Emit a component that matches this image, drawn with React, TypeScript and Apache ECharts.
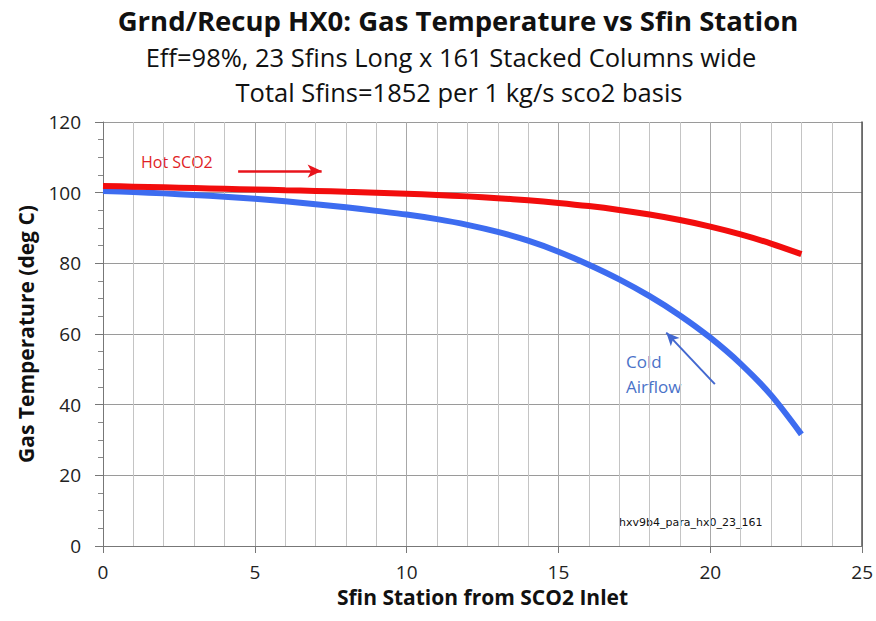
import React, { useEffect, useRef } from "react";
import * as echarts from "echarts";

const stations = [0, 1, 2, 3, 4, 5, 6, 7, 8, 9, 10, 11, 12, 13, 14, 15, 16, 17, 18, 19, 20, 21, 22, 23];
const hotSco2 = [101.9, 101.7, 101.5, 101.3, 101.1, 100.9, 100.7, 100.5, 100.25, 100.0, 99.7, 99.35, 98.95, 98.45, 97.85, 97.1, 96.2, 95.1, 93.8, 92.25, 90.4, 88.2, 85.6, 82.6];
const coldAir = [100.5, 100.2, 99.8, 99.35, 98.85, 98.25, 97.55, 96.75, 95.85, 94.85, 93.8, 92.5, 90.9, 88.9, 86.4, 83.3, 79.6, 75.45, 70.7, 65.25, 58.95, 51.55, 42.7, 31.6];
const hotArrow = [[4.45, 106.1], [7.2, 106.1]];
const coldArrow = [[20.15, 45.8], [18.55, 60.4]];

const titleLines = [
  "Grnd/Recup HX0: Gas Temperature vs Sfin Station",
  "Eff=98%, 23 Sfins Long x 161 Stacked Columns wide",
  "Total Sfins=1852 per 1 kg/s sco2 basis",
];

const FONT = "'Open Sans', Lato, sans-serif";

export default function App() {
  const ref = useRef<HTMLDivElement>(null);
  useEffect(() => {
    if (!ref.current) return;
    const chart = echarts.init(ref.current, null, { renderer: "svg" });
    const hot = stations.map((s, i) => [s, hotSco2[i]]);
    const cold = stations.map((s, i) => [s, coldAir[i]]);
    chart.setOption({
      animation: false,
      backgroundColor: "#ffffff",
      textStyle: { fontFamily: FONT },
      grid: { left: 103, right: 12, top: 122, bottom: 75 },
      xAxis: {
        type: "value",
        min: 0,
        max: 25,
        interval: 5,
        name: "Sfin Station from SCO2 Inlet",
        nameLocation: "middle",
        nameGap: 40,
        nameTextStyle: { fontFamily: FONT, fontSize: 21, fontWeight: "bold", color: "#111" },
        axisLine: { show: true, onZero: false, lineStyle: { color: "#777", width: 1 } },
        axisTick: { show: true, length: 7, lineStyle: { color: "#777" } },
        axisLabel: { fontFamily: FONT, fontSize: 19, color: "#222", margin: 16 },
        splitLine: { show: true, lineStyle: { color: "#a8a8a8", width: 1 } },
        minorTick: { show: false, splitNumber: 5 },
        minorSplitLine: { show: true, lineStyle: { color: "#c4c4c4", width: 1 } },
      },
      yAxis: [
        {
          type: "value",
          min: 0,
          max: 120,
          interval: 20,
          name: "Gas Temperature (deg C)",
          nameLocation: "middle",
          nameGap: 67,
          nameTextStyle: { fontFamily: FONT, fontSize: 21, fontWeight: "bold", color: "#111" },
          axisLine: { show: true, lineStyle: { color: "#777", width: 1 } },
          axisTick: { show: true, length: 8, lineStyle: { color: "#777" } },
          minorTick: { show: true, splitNumber: 4, length: 5, lineStyle: { color: "#888" } },
          axisLabel: { fontFamily: FONT, fontSize: 19, color: "#222", margin: 22 },
          splitLine: { show: true, lineStyle: { color: "#9a9a9a", width: 1 } },
        },
        {
          type: "value",
          min: 0,
          max: 120,
          interval: 20,
          position: "right",
          axisLine: { show: true, lineStyle: { color: "#555", width: 1.5 } },
          axisTick: { show: false },
          axisLabel: { show: false },
          splitLine: { show: false },
        },
      ],
      series: [
        {
          type: "line",
          name: "Hot SCO2",
          data: hot,
          smooth: 0.3,
          showSymbol: false,
          lineStyle: { color: "#f20d0d", width: 6 },
          z: 3,
          markLine: {
            silent: true,
            symbol: ["none", "arrow"],
            symbolSize: [10, 14],
            label: { show: false },
            lineStyle: { color: "#e8141c", width: 2.5, type: "solid" },
            data: [[{ coord: hotArrow[0] }, { coord: hotArrow[1] }]],
          },
        },
        {
          type: "line",
          name: "Cold Airflow",
          data: cold,
          smooth: 0.3,
          showSymbol: false,
          lineStyle: { color: "#3d6cf0", width: 6 },
          z: 2,
          markLine: {
            silent: true,
            symbol: ["none", "arrow"],
            symbolSize: [9, 13],
            label: { show: false },
            lineStyle: { color: "#4368d0", width: 2, type: "solid" },
            data: [[{ coord: coldArrow[0] }, { coord: coldArrow[1] }]],
          },
        },
      ],
      graphic: [
        { type: "text", x: 458, y: 20, style: { text: titleLines[0], fill: "#111", align: "center", verticalAlign: "middle", font: `bold 27.5px ${FONT}` } },
        { type: "text", x: 451, y: 57, style: { text: titleLines[1], fill: "#111", align: "center", verticalAlign: "middle", font: `25.5px ${FONT}` } },
        { type: "text", x: 459, y: 92, style: { text: titleLines[2], fill: "#111", align: "center", verticalAlign: "middle", font: `25.5px ${FONT}` } },
        { type: "text", left: 141, top: 154, style: { text: "Hot SCO2", fill: "#e01e26", font: `16px ${FONT}` } },
        { type: "text", left: 626, top: 349, style: { text: "Cold\nAirflow", fill: "#4a72c8", font: `17px ${FONT}`, lineHeight: 25 } },
        { type: "text", left: 619, top: 517, style: { text: "hxv9b4_para_hx0_23_161", fill: "#111", font: "11px 'DejaVu Sans', sans-serif" } },
      ],
    });
    return () => chart.dispose();
  }, []);
  return <div ref={ref} style={{ width: 876, height: 621, position: "absolute", left: 0, top: 0 }} />;
}
